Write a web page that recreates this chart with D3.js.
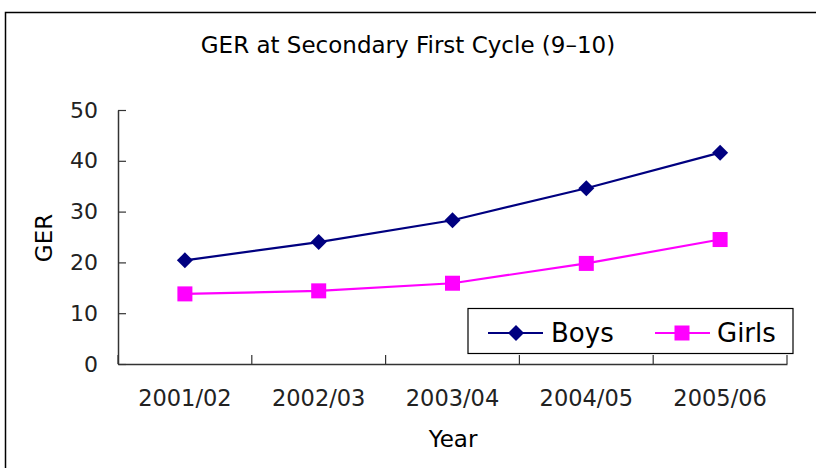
<!DOCTYPE html>
<html><head><meta charset="utf-8">
<script src="https://cdn.jsdelivr.net/npm/d3@7"></script>
<style>body{margin:0;background:#fff}svg{display:block}text{font-family:"DejaVu Sans",sans-serif}</style>
</head><body>
<script>
const categories = ["2001/02","2002/03","2003/04","2004/05","2005/06"];
const boys = [20.4, 24.0, 28.3, 34.6, 41.6];
const girls = [13.8, 14.4, 15.9, 19.8, 24.5];
const yTicks = [0,10,20,30,40,50];
const title = "GER at Secondary First Cycle (9\u201310)";

const W=816,H=468;
const FF="DejaVu Sans, sans-serif";
const svg=d3.select("body").append("svg").attr("width",W).attr("height",H);
svg.append("rect").attr("x",5.5).attr("y",12.5).attr("width",900).attr("height",600)
  .attr("fill","none").attr("stroke","#000").attr("stroke-width",1.5);

const L=118,R=787,T=110,B=364;
const x=d3.scaleBand().domain(categories).range([L,R]);
const y=d3.scaleLinear().domain([0,50]).range([B,T]);

svg.append("text").attr("x",408).attr("y",53).attr("text-anchor","middle")
  .attr("font-size",23).text(title);

// y axis
const ya=svg.append("g").attr("transform",`translate(${L},0)`)
  .call(d3.axisLeft(y).tickValues(yTicks).tickSize(-8).tickPadding(20).tickSizeOuter(0));
ya.select(".domain").attr("stroke","#333").attr("stroke-width",1.5);
ya.selectAll(".tick line").attr("stroke","#333").attr("stroke-width",1.2);
ya.selectAll(".tick text").attr("font-size",22).attr("font-family",FF).attr("fill","#222");

// x axis
const xa=svg.append("g").attr("transform",`translate(0,${B})`)
  .call(d3.axisBottom(x).tickSize(0).tickPadding(26).tickSizeOuter(0));
xa.select(".domain").attr("stroke","#333").attr("stroke-width",1.5);
xa.selectAll(".tick text").attr("font-size",22.5).attr("font-family",FF).attr("fill","#222");
const bounds=categories.map(c=>x(c)).concat([R]);
svg.append("g").selectAll("line").data(bounds).join("line")
  .attr("x1",d=>d).attr("x2",d=>d).attr("y1",B).attr("y2",B-9)
  .attr("stroke","#333").attr("stroke-width",1.2);

svg.append("text").attr("x",453).attr("y",447).attr("text-anchor","middle").attr("font-size",23).text("Year");
svg.append("text").attr("transform","translate(52,238) rotate(-90)").attr("text-anchor","middle").attr("font-size",23).text("GER");

const cx=c=>x(c)+x.bandwidth()/2;
const line=d3.line().x((d,i)=>cx(categories[i])).y(d=>y(d));
const boyC="#000080", girlC="#FF00FF";
svg.append("path").datum(boys).attr("d",line).attr("fill","none").attr("stroke",boyC).attr("stroke-width",2.2);
svg.append("path").datum(girls).attr("d",line).attr("fill","none").attr("stroke",girlC).attr("stroke-width",2.2);
const diamond=(g,px,py)=>g.append("path").attr("d",`M${px},${py-8}L${px+8},${py}L${px},${py+8}L${px-8},${py}Z`).attr("fill",boyC);
const square=(g,px,py)=>g.append("rect").attr("x",px-7.5).attr("y",py-7.5).attr("width",15).attr("height",15).attr("fill",girlC);
const mg=svg.append("g");
boys.forEach((v,i)=>diamond(mg,cx(categories[i]),y(v)));
girls.forEach((v,i)=>square(mg,cx(categories[i]),y(v)));

// legend
const lg=svg.append("g");
lg.append("rect").attr("x",468).attr("y",308.5).attr("width",325).attr("height",45)
  .attr("fill","#fff").attr("stroke","#000").attr("stroke-width",1.2);
lg.append("line").attr("x1",488).attr("x2",543).attr("y1",333).attr("y2",333).attr("stroke",boyC).attr("stroke-width",2.2);
diamond(lg,516,333);
lg.append("text").attr("x",551).attr("y",342).attr("font-size",26).text("Boys");
lg.append("line").attr("x1",655).attr("x2",710).attr("y1",333).attr("y2",333).attr("stroke",girlC).attr("stroke-width",2.2);
square(lg,682,333);
lg.append("text").attr("x",717).attr("y",342).attr("font-size",26).text("Girls");
</script>
</body></html>
